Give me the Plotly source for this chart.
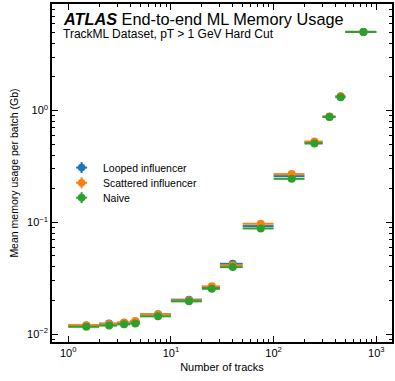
import numpy as np
import plotly.graph_objects as go

# bins in number of tracks
bin_lo = [1, 2, 3, 4, 5, 10, 20, 30, 50, 100, 200, 300, 400, 500]
bin_hi = [2, 3, 4, 5, 10, 20, 30, 50, 100, 200, 300, 400, 500, 1000]
bin_center = [1.5, 2.5, 3.5, 4.5, 7.5, 15, 25, 40, 75, 150, 250, 350, 450, 750]

looped = [0.0119, 0.0124, 0.0126, 0.0129, 0.0150, 0.0203, 0.0263, 0.0425, 0.0925, 0.259, 0.520, 0.880, 1.335, 5.06]
scattered = [0.0120, 0.0123, 0.0127, 0.0131, 0.0150, 0.0200, 0.0267, 0.0412, 0.0970, 0.270, 0.528, 0.885, 1.345, 5.06]
naive = [0.0116, 0.0119, 0.0122, 0.0124, 0.0144, 0.0196, 0.0254, 0.0397, 0.0881, 0.245, 0.507, 0.878, 1.318, 5.06]

series = [
    ("Looped influencer", looped, "#1f77b4"),
    ("Scattered influencer", scattered, "#ff7f0e"),
    ("Naive", naive, "#2ca02c"),
]

x_major = [1, 10, 100, 1000]
x_major_text = ["10<sup>0</sup>", "10<sup>1</sup>", "10<sup>2</sup>", "10<sup>3</sup>"]
y_major = [0.01, 0.1, 1]
y_major_text = ["10<sup>\u22122</sup>", "10<sup>\u22121</sup>", "10<sup>0</sup>"]

def minor_vals(lo_exp, hi_exp):
    v = []
    for e in range(lo_exp, hi_exp + 1):
        for m in range(2, 10):
            v.append(m * 10.0 ** e)
    return v

xc = np.array(bin_center, dtype=float)
plus = np.array(bin_hi) - xc
minus = xc - np.array(bin_lo)

fig = go.Figure()
for name, vals, col in series:
    fig.add_trace(go.Scatter(
        x=bin_center, y=vals, mode="markers", name=name, showlegend=False,
        marker=dict(color=col, size=8, symbol="circle"),
        error_x=dict(type="data", array=plus, arrayminus=minus, color=col,
                     thickness=2, width=0),
    ))

font = "Liberation Sans, Arial, sans-serif"
axis_common = dict(
    type="log", showgrid=False, zeroline=False, showline=True,
    linecolor="black", linewidth=1.5, mirror="allticks",
    ticks="inside", ticklen=6, tickwidth=1, tickcolor="black",
    tickfont=dict(family=font, size=11, color="black"),
)

fig.update_layout(
    width=395, height=381,
    margin=dict(l=52, r=1, t=4, b=39),
    paper_bgcolor="white", plot_bgcolor="white",
    font=dict(family=font, color="black"),
    xaxis=dict(
        **axis_common, range=[-0.158, 3.153],
        tickvals=x_major, ticktext=x_major_text,
        minor=dict(tickvals=minor_vals(0, 3), ticks="inside", ticklen=3,
                   tickwidth=1, tickcolor="black", showgrid=False),
        title=dict(text="Number of tracks", font=dict(family=font, size=11), standoff=5),
    ),
    yaxis=dict(
        **axis_common, range=[-2.0716, 0.954],
        tickvals=y_major, ticktext=y_major_text,
        minor=dict(tickvals=minor_vals(-3, 0), ticks="inside", ticklen=3,
                   tickwidth=1, tickcolor="black", showgrid=False),
        title=dict(text="Mean memory usage per batch (Gb)", font=dict(family=font, size=10.5), standoff=6),
    ),
    showlegend=False,
)

# manual legend (paper coordinates of the plot area)
leg_x_marker = 0.087
leg_x_text = 0.143
leg_y = [0.516, 0.471, 0.427]
for (name, vals, col), ly in zip(series, leg_y):
    fig.add_shape(type="line", xref="paper", yref="paper", xsizemode="pixel", ysizemode="pixel",
                  xanchor=leg_x_marker, yanchor=ly, x0=-5.5, x1=5.5, y0=0, y1=0,
                  line=dict(color=col, width=2))
    fig.add_shape(type="line", xref="paper", yref="paper", xsizemode="pixel", ysizemode="pixel",
                  xanchor=leg_x_marker, yanchor=ly, x0=0, x1=0, y0=-5.5, y1=5.5,
                  line=dict(color=col, width=2))
    fig.add_shape(type="circle", xref="paper", yref="paper", xsizemode="pixel", ysizemode="pixel",
                  xanchor=leg_x_marker, yanchor=ly, x0=-3.8, x1=3.8, y0=-3.8, y1=3.8,
                  line=dict(color=col, width=0), fillcolor=col)
    fig.add_annotation(x=leg_x_text, y=ly, xref="paper", yref="paper", xanchor="left",
                       yanchor="middle", text=name, showarrow=False,
                       font=dict(family=font, size=10.5, color="black"))

fig.add_annotation(
    x=0.026, y=0.956, xref="paper", yref="paper", xanchor="left", yanchor="middle",
    text="<b><i>ATLAS</i></b> End-to-end ML Memory Usage", showarrow=False,
    font=dict(family=font, size=16.3, color="black"),
)
fig.add_annotation(
    x=0.026, y=0.91, xref="paper", yref="paper", xanchor="left", yanchor="middle",
    text="TrackML Dataset, pT > 1 GeV Hard Cut", showarrow=False,
    font=dict(family=font, size=12, color="black"),
)

fig.write_html("out.html")
